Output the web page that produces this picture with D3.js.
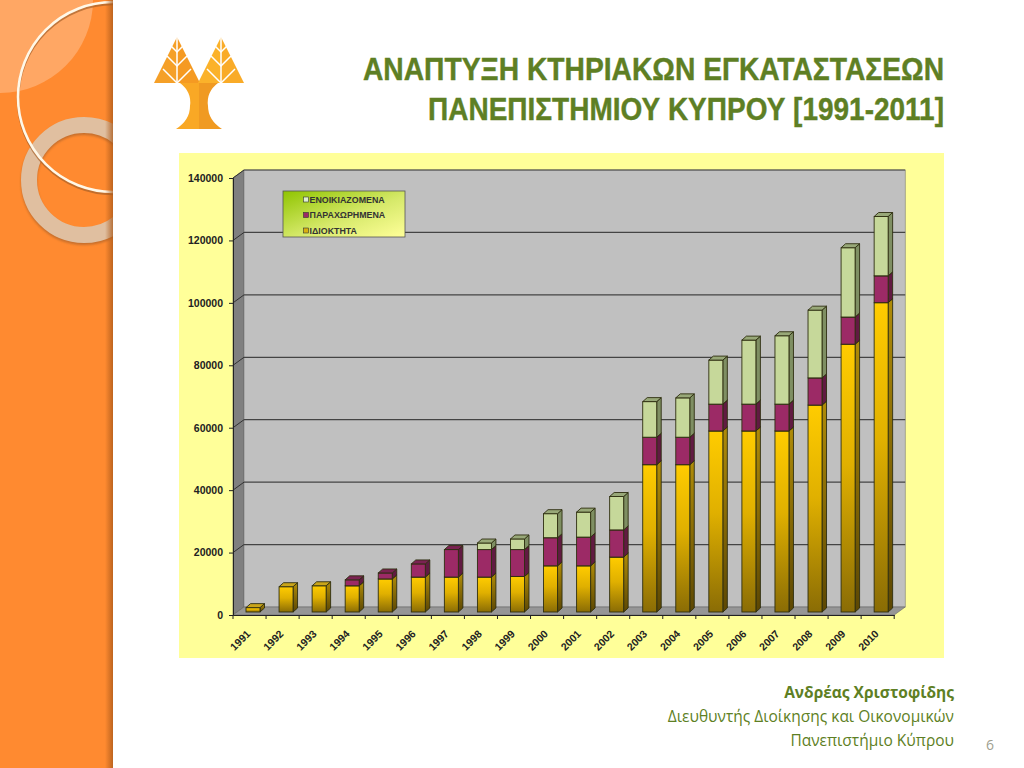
<!DOCTYPE html>
<html>
<head>
<meta charset="utf-8">
<script src="https://cdn.jsdelivr.net/npm/d3@7"></script>
<style>
  html, body { margin: 0; padding: 0; background: #fff; overflow: hidden; }
  svg { display: block; }
  .axis text { font-family: "Liberation Sans", Arial, sans-serif; font-weight: bold; font-size: 10.5px; fill: #222; }
  .axis path, .axis line { stroke: #222; }
</style>
</head>
<body>
<svg id="slide" width="1024" height="768"></svg>
<script>
const years = ["1991","1992","1993","1994","1995","1996","1997","1998","1999","2000",
    "2001","2002","2003","2004","2005","2006","2007","2008","2009","2010"];
const owned = [1400,8100,8400,8400,10600,11200,11200,11200,11400,14800,
    14800,17600,47200,47200,58000,58000,58000,66300,85800,99100];
const allotted = [0,0,0,1900,1900,4200,8800,8800,8600,9000,
    9200,8700,8800,8800,8600,8600,8600,8700,8700,8600];
const rented = [0,0,0,0,0,0,0,2100,3400,7700,
    8000,10700,11400,12600,14100,20500,21900,21700,22200,19000];
const yTicks = [0,20000,40000,60000,80000,100000,120000,140000];
const seriesNames = ["ΕΝΟΙΚΙΑΖΟΜΕΝΑ","ΠΑΡΑΧΩΡΗΜΕΝΑ","ΙΔΙΟΚΤΗΤΑ"];
const titleLines = ["ΑΝΑΠΤΥΞΗ ΚΤΗΡΙΑΚΩΝ ΕΓΚΑΤΑΣΤΑΣΕΩΝ","ΠΑΝΕΠΙΣΤΗΜΙΟΥ ΚΥΠΡΟΥ [1991-2011]"];
const titleWidths = [581, 516];
const footerLines = ["Ανδρέας Χριστοφίδης","Διευθυντής Διοίκησης και Οικονομικών","Πανεπιστήμιο Κύπρου"];

const svg = d3.select("#slide");
const defs = svg.append("defs");

function gradient(id, stops, x2, y2) {
    const g = defs.append("linearGradient").attr("id", id)
        .attr("x1", 0).attr("y1", 0).attr("x2", x2).attr("y2", y2);
    stops.forEach(s => {
        const st = g.append("stop").attr("offset", s[0]).attr("stop-color", s[1]);
        if (s[2] !== undefined) st.attr("stop-opacity", s[2]);
    });
}
gradient("yellowFront", [[0,"#ffcc00"],[0.45,"#e0b000"],[1,"#8a6c05"]], 0, 1);
gradient("yellowSide", [[0,"#b08c08"],[1,"#5c4703"]], 0, 1);
gradient("legendBg", [[0,"#8fc400"],[0.55,"#d6e96a"],[1,"#ffff99"]], 1, 1);
gradient("edgeShade", [[0,"#a8581a",0],[1,"#a8581a",0.75]], 1, 0);

const blur2 = defs.append("filter").attr("id", "soft2").attr("x", "-20%").attr("y", "-20%").attr("width", "140%").attr("height", "140%");
blur2.append("feGaussianBlur").attr("stdDeviation", 1);

// sidebar
defs.append("clipPath").attr("id", "sideClip").append("rect").attr("width", 113).attr("height", 768);
const side = svg.append("g").attr("clip-path", "url(#sideClip)");
side.append("rect").attr("width", 113).attr("height", 768).attr("fill", "#ff8a30");
side.append("circle").attr("cx", 0).attr("cy", 0).attr("r", 93).attr("fill", "#ffffff").attr("opacity", 0.25);
side.append("circle").attr("cx", 84).attr("cy", 182).attr("r", 55).attr("fill", "none")
    .attr("stroke", "#a8612a").attr("stroke-width", 16).attr("opacity", 0.65).attr("filter", "url(#soft2)");
side.append("circle").attr("cx", 84).attr("cy", 180).attr("r", 55).attr("fill", "none")
    .attr("stroke", "#e0bfa0").attr("stroke-width", 16);
side.append("circle").attr("cx", 113).attr("cy", 99).attr("r", 95).attr("fill", "none")
    .attr("stroke", "#a8612a").attr("stroke-width", 2.6).attr("opacity", 0.7);
side.append("circle").attr("cx", 113).attr("cy", 97).attr("r", 95).attr("fill", "none")
    .attr("stroke", "#fff8e8").attr("stroke-width", 2.6);
side.append("rect").attr("x", 105).attr("width", 8).attr("height", 768).attr("fill", "url(#edgeShade)");

// logo
const logo = svg.append("g");
const tree = (cx, fillL, fillR) => {
    logo.append("path").attr("d", `M${cx},37 L${cx - 23},83 L${cx},83 Z`).attr("fill", fillL);
    logo.append("path").attr("d", `M${cx},37 L${cx + 23},83 L${cx},83 Z`).attr("fill", fillR);
    [[46, 6], [56, 10], [69, 14]].forEach(b => {
        logo.append("path")
            .attr("d", `M${cx - b[1]},${b[0]} L${cx},${b[0] + b[1]} L${cx + b[1]},${b[0]}`)
            .attr("fill", "none").attr("stroke", "#fff").attr("stroke-width", 1.5);
    });
    logo.append("line").attr("x1", cx).attr("x2", cx).attr("y1", 37).attr("y2", 84)
        .attr("stroke", "#fff").attr("stroke-width", 1.5);
};
tree(177, "#f5a028", "#f59a22");
tree(221, "#fbb22a", "#f9ab28");
logo.append("path").attr("d", "M199,83 L180,83 Q192,92 190,106 Q190,120 176,129 L199,129 Z").attr("fill", "#f9a825");
logo.append("path").attr("d", "M199,83 L218,83 Q206,92 208,106 Q208,120 222,129 L199,129 Z").attr("fill", "#f09a22");

// title
svg.append("g").selectAll("text").data(titleLines).join("text")
    .attr("x", 944).attr("y", (d, i) => 80 + i * 40)
    .attr("text-anchor", "end")
    .attr("textLength", (d, i) => titleWidths[i])
    .attr("lengthAdjust", "spacingAndGlyphs")
    .attr("font-family", '"Liberation Sans", sans-serif')
    .attr("font-weight", "bold").attr("font-size", 31).attr("fill", "#5e7f24")
    .attr("stroke", "#5e7f24").attr("stroke-width", 0.4)
    .text(d => d);

// chart panel
svg.append("rect").attr("x", 179).attr("y", 153).attr("width", 765).attr("height", 505).attr("fill", "#ffff99");

const depthX = 11, depthY = 8;
const x = d3.scaleBand().domain(years).range([233, 894.2]);
const y = d3.scaleLinear().domain([0, 140000]).range([615, 178]);
const x0 = x.range()[0], x1 = x.range()[1], yBase = y(0), yTop = y(140000);

// walls
svg.append("path")
    .attr("d", `M${x0},${yBase} L${x0},${yTop} L${x0 + depthX},${yTop - depthY} L${x0 + depthX},${yBase - depthY} Z`)
    .attr("fill", "#808080").attr("stroke", "#555").attr("stroke-width", 0.6);
svg.append("rect").attr("x", x0 + depthX).attr("y", yTop - depthY)
    .attr("width", x1 - x0).attr("height", yBase - yTop)
    .attr("fill", "#c0c0c0").attr("stroke", "#777").attr("stroke-width", 0.6);
svg.append("path")
    .attr("d", `M${x0},${yBase} L${x0 + depthX},${yBase - depthY} L${x1 + depthX},${yBase - depthY} L${x1},${yBase} Z`)
    .attr("fill", "#969696").attr("stroke", "#666").attr("stroke-width", 0.6);

// gridlines on the back wall and side wall
const grid = svg.append("g").selectAll("g").data(yTicks.slice(1)).join("g");
grid.append("line").attr("x1", x0).attr("y1", d => y(d)).attr("x2", x0 + depthX).attr("y2", d => y(d) - depthY)
    .attr("stroke", "#333").attr("stroke-width", 1);
grid.append("line").attr("x1", x0 + depthX).attr("x2", x1 + depthX)
    .attr("y1", d => y(d) - depthY).attr("y2", d => y(d) - depthY)
    .attr("stroke", "#444").attr("stroke-width", 1.2);

// stacked bars
const stackData = years.map((yr, i) => ({year: yr, owned: owned[i], allotted: allotted[i], rented: rented[i]}));
const stacked = d3.stack().keys(["owned", "allotted", "rented"])(stackData);
const styles = {
    owned: {front: "url(#yellowFront)", side: "url(#yellowSide)", top: "#c9a51a"},
    allotted: {front: "#9c2a66", side: "#611a42", top: "#7b2252"},
    rented: {front: "#c6d89a", side: "#7f8f63", top: "#98a878"}
};
const barW = 14, barDX = 4.5, barDY = 4, liftY = 3;

stacked.forEach(layer => {
    const st = styles[layer.key];
    layer.forEach(seg => {
        if (seg[1] - seg[0] <= 0) return;
        const left = x(seg.data.year) + 13;
        const yLow = y(seg[0]) - liftY, yHigh = y(seg[1]) - liftY;
        const g = svg.append("g").attr("stroke", "#2e2e10").attr("stroke-width", 0.9);
        g.append("path")
            .attr("d", `M${left + barW},${yLow} L${left + barW + barDX},${yLow - barDY} L${left + barW + barDX},${yHigh - barDY} L${left + barW},${yHigh} Z`)
            .attr("fill", st.side);
        g.append("rect").attr("x", left).attr("y", yHigh).attr("width", barW).attr("height", yLow - yHigh)
            .attr("fill", st.front);
        g.append("path")
            .attr("d", `M${left},${yHigh} L${left + barDX},${yHigh - barDY} L${left + barW + barDX},${yHigh - barDY} L${left + barW},${yHigh} Z`)
            .attr("fill", st.top);
    });
});

// axes
svg.append("g").attr("class", "axis")
    .attr("transform", `translate(${x0},0)`)
    .call(d3.axisLeft(y).tickValues(yTicks).tickFormat(d3.format("d")).tickSize(4).tickPadding(6));
const xAxis = svg.append("g").attr("class", "axis")
    .attr("transform", `translate(0,${yBase})`)
    .call(d3.axisBottom(x).tickSize(0));
xAxis.selectAll(".tick text")
    .attr("text-anchor", "end")
    .attr("x", 0).attr("y", 0).attr("dy", "0.35em")
    .attr("transform", "translate(-1,17) rotate(-45)");
xAxis.selectAll(".boundary").data(years.concat("end")).join("line")
    .attr("class", "boundary")
    .attr("x1", (d, i) => x0 + i * x.bandwidth()).attr("x2", (d, i) => x0 + i * x.bandwidth())
    .attr("y1", 0).attr("y2", 4);

// legend
const legend = svg.append("g");
legend.append("rect").attr("x", 283).attr("y", 191).attr("width", 122).attr("height", 46)
    .attr("fill", "url(#legendBg)").attr("stroke", "#555").attr("stroke-width", 0.8);
const legendColors = ["#dff0d0", "#9c2a66", "#d8b010"];
seriesNames.forEach((name, i) => {
    const ly = 199.5 + i * 15.5;
    legend.append("rect").attr("x", 303.5).attr("y", ly - 2.5).attr("width", 5).attr("height", 5)
        .attr("fill", legendColors[i]).attr("stroke", "#333").attr("stroke-width", 0.6);
    legend.append("text").attr("x", 309.5).attr("y", ly + 3)
        .attr("font-family", '"Liberation Sans", Arial, sans-serif').attr("font-weight", "bold")
        .attr("font-size", 8.85).attr("fill", "#333").text(name);
});

// footer
svg.append("g").selectAll("text").data(footerLines).join("text")
    .attr("x", 954).attr("y", (d, i) => 698 + i * 24)
    .attr("text-anchor", "end")
    .attr("font-family", '"Open Sans", "Noto Sans", sans-serif')
    .attr("font-weight", (d, i) => i === 0 ? "bold" : "normal")
    .attr("font-size", 15.5)
    .attr("fill", "#5e7f24")
    .text(d => d);
svg.append("text").attr("x", 990).attr("y", 750).attr("text-anchor", "middle")
    .attr("font-family", '"Open Sans", sans-serif').attr("font-size", 14).attr("fill", "#a0a090").text("6");
</script>
</body>
</html>
